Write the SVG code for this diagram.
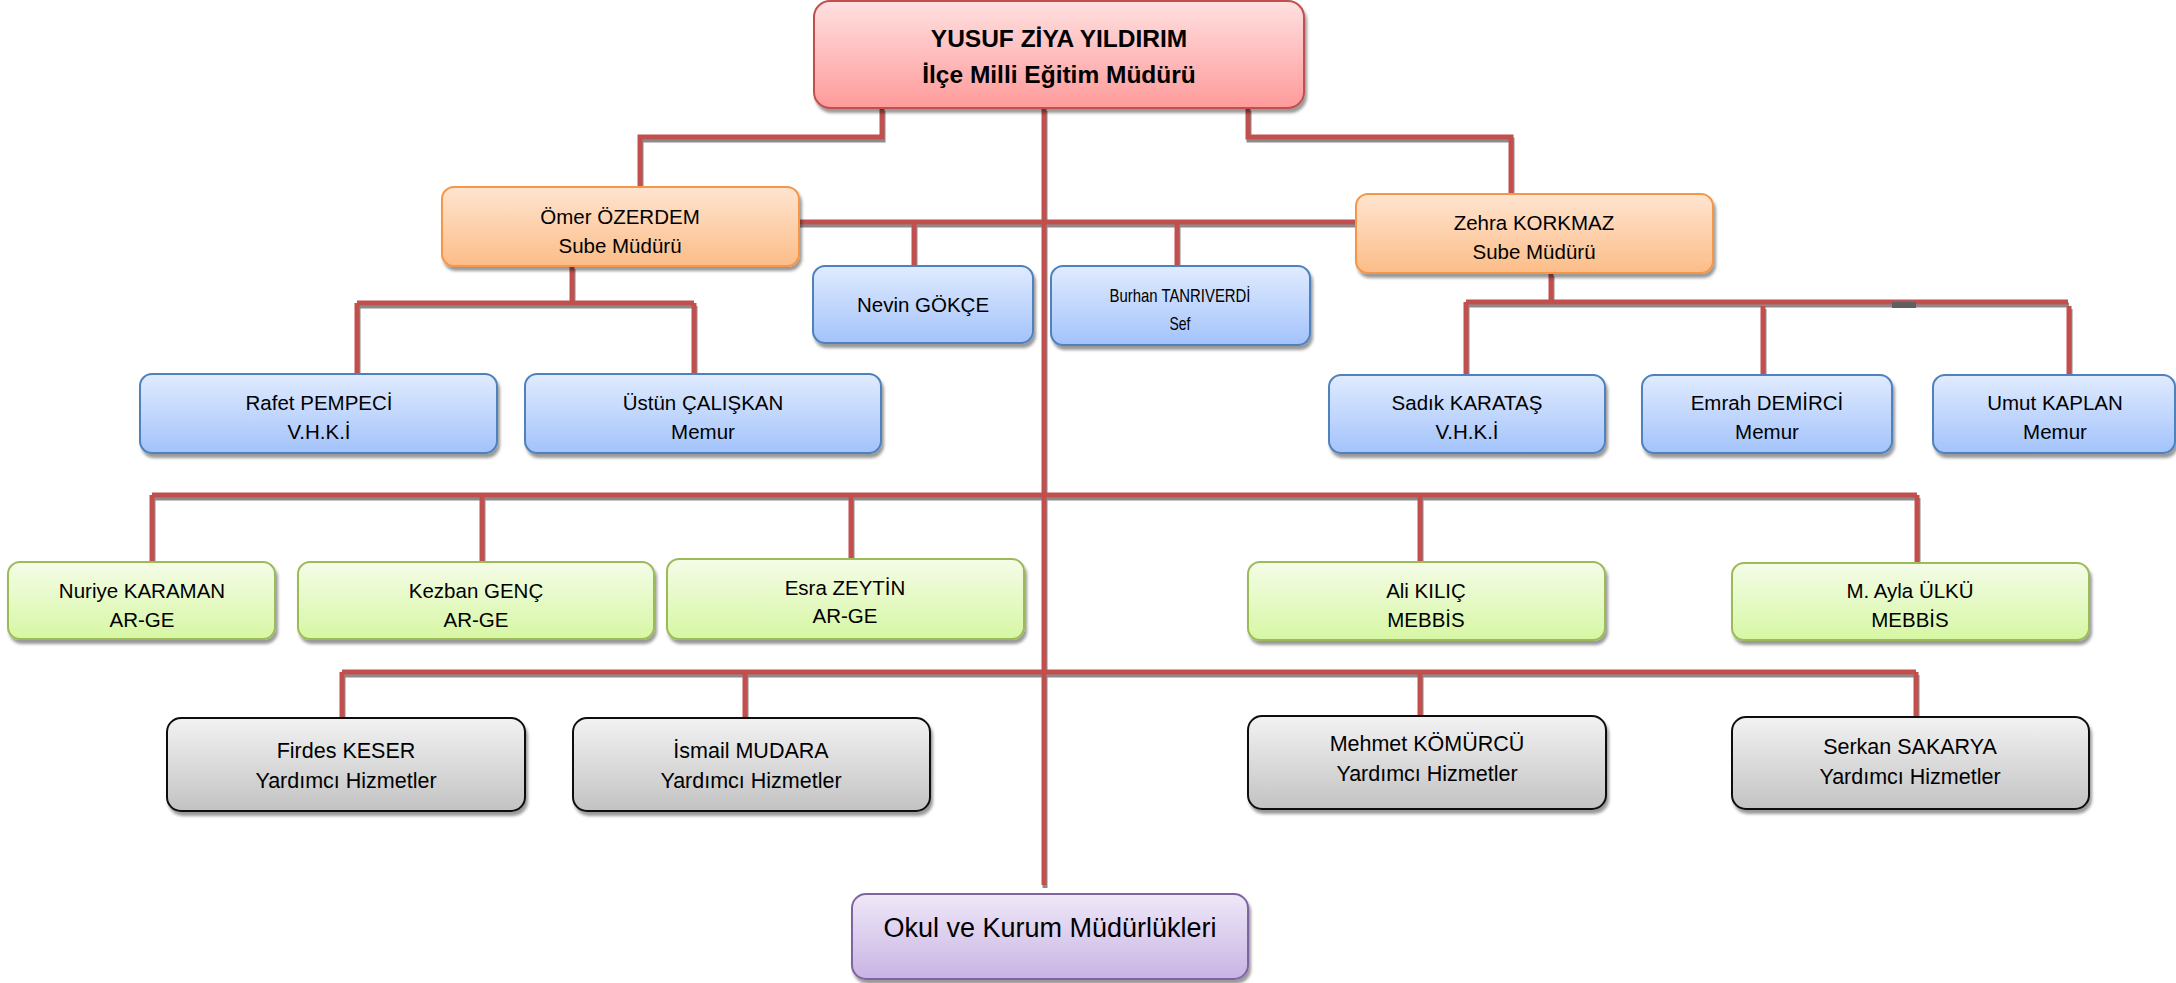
<svg xmlns="http://www.w3.org/2000/svg" width="2176" height="983" viewBox="0 0 2176 983">
<style>
text{font-family:"Liberation Sans",Arial,sans-serif;font-size:20.5px;fill:#000;text-anchor:middle}
.b{font-weight:bold;font-size:24.5px}
.sm{font-size:19px}
.gr{font-size:21.5px}
.lg{font-size:27px}
rect{stroke-width:2;filter:url(#sh)}
.red{fill:url(#gRed);stroke:#C0504D}
.ora{fill:url(#gOra);stroke:#F79646}
.blu{fill:url(#gBlu);stroke:#4F81BD}
.grn{fill:url(#gGrn);stroke:#9BBB59}
.gry{fill:url(#gGry);stroke:#111}
.pur{fill:url(#gPur);stroke:#8064A2}
#connectors path{fill:none;stroke:#C0504D;stroke-width:5}
</style>
<defs>
<filter id="sh" x="-5%" y="-10%" width="115%" height="130%"><feDropShadow dx="2" dy="4" stdDeviation="1.5" flood-color="#000" flood-opacity="0.4"/></filter>
<filter id="lsh" x="-2%" y="-2%" width="104%" height="104%"><feDropShadow dx="1" dy="3" stdDeviation="0.6" flood-color="#777" flood-opacity="0.85"/></filter>
<linearGradient id="gRed" x1="0" y1="0" x2="0" y2="1"><stop offset="0" stop-color="#FFE0E0"/><stop offset="1" stop-color="#FF9A9A"/></linearGradient>
<linearGradient id="gOra" x1="0" y1="0" x2="0" y2="1"><stop offset="0" stop-color="#FFE4D0"/><stop offset="1" stop-color="#FCBD88"/></linearGradient>
<linearGradient id="gBlu" x1="0" y1="0" x2="0" y2="1"><stop offset="0" stop-color="#E0EBFE"/><stop offset="1" stop-color="#A3C3FB"/></linearGradient>
<linearGradient id="gGrn" x1="0" y1="0" x2="0" y2="1"><stop offset="0" stop-color="#F5FCE8"/><stop offset="1" stop-color="#D6F7A3"/></linearGradient>
<linearGradient id="gGry" x1="0" y1="0" x2="0" y2="1"><stop offset="0" stop-color="#F2F2F2"/><stop offset="1" stop-color="#C3C3C3"/></linearGradient>
<linearGradient id="gPur" x1="0" y1="0" x2="0" y2="1"><stop offset="0" stop-color="#EFE8F8"/><stop offset="1" stop-color="#C8B4E4"/></linearGradient>
</defs>
<rect x="0" y="0" width="2176" height="983" fill="#fff" style="filter:none;stroke:none"/>
<g id="connectors" filter="url(#lsh)">
<path d="M882 108 V137 H640 V187"/>
<path d="M1248 108 V137 H1511 V194"/>
<path d="M1044 108 V885"/>
<path d="M799 222 H1356"/>
<path d="M914 222 V266"/>
<path d="M1177 222 V266"/>
<path d="M572 266 V303"/>
<path d="M357 303 H694"/>
<path d="M357 303 V374"/>
<path d="M694 303 V374"/>
<path d="M1551 273 V302"/>
<path d="M1466 302 H2068"/>
<path d="M1466 302 V375"/>
<path d="M1763 306 V375"/>
<path d="M2069 306 V375"/>
<path d="M152 495 H1917"/>
<path d="M152 495 V562"/>
<path d="M482 495 V562"/>
<path d="M851 495 V559"/>
<path d="M1420 495 V562"/>
<path d="M1917 495 V563"/>
<path d="M342 672 H1916"/>
<path d="M342 672 V718"/>
<path d="M745 672 V718"/>
<path d="M1420 672 V716"/>
<path d="M1916 672 V717"/>
</g>
<rect x="1892" y="302" width="24" height="6" fill="#5f5f5f" style="filter:none;stroke:none"/>
<g id="n-top"><rect class="red" x="814" y="1" width="490" height="107" rx="16"/><text class="b" x="1059" y="47">YUSUF ZİYA YILDIRIM</text><text class="b" x="1059" y="83">İlçe Milli Eğitim Müdürü</text></g>
<g id="n-omer"><rect class="ora" x="442" y="187" width="357" height="79" rx="12"/><text x="620" y="224">Ömer ÖZERDEM</text><text x="620" y="253">Sube Müdürü</text></g>
<g id="n-zehra"><rect class="ora" x="1356" y="194" width="357" height="79" rx="12"/><text x="1534" y="230">Zehra KORKMAZ</text><text x="1534" y="259">Sube Müdürü</text></g>
<g id="n-nevin"><rect class="blu" x="813" y="266" width="220" height="77" rx="12"/><text x="923" y="312">Nevin GÖKÇE</text></g>
<g id="n-burhan"><rect class="blu" x="1051" y="266" width="259" height="79" rx="12"/><text class="sm" x="1180" y="302" textLength="141" lengthAdjust="spacingAndGlyphs">Burhan TANRIVERDİ</text><text class="sm" x="1180" y="330" textLength="21" lengthAdjust="spacingAndGlyphs">Sef</text></g>
<g id="n-rafet"><rect class="blu" x="140" y="374" width="357" height="79" rx="12"/><text x="319" y="410">Rafet PEMPECİ</text><text x="319" y="439">V.H.K.İ</text></g>
<g id="n-ustun"><rect class="blu" x="525" y="374" width="356" height="79" rx="12"/><text x="703" y="410">Üstün ÇALIŞKAN</text><text x="703" y="439">Memur</text></g>
<g id="n-sadik"><rect class="blu" x="1329" y="375" width="276" height="78" rx="12"/><text x="1467" y="410">Sadık KARATAŞ</text><text x="1467" y="439">V.H.K.İ</text></g>
<g id="n-emrah"><rect class="blu" x="1642" y="375" width="250" height="78" rx="12"/><text x="1767" y="410">Emrah DEMİRCİ</text><text x="1767" y="439">Memur</text></g>
<g id="n-umut"><rect class="blu" x="1933" y="375" width="242" height="78" rx="12"/><text x="2055" y="410">Umut KAPLAN</text><text x="2055" y="439">Memur</text></g>
<g id="n-nuriye"><rect class="grn" x="8" y="562" width="267" height="77" rx="12"/><text x="142" y="598">Nuriye KARAMAN</text><text x="142" y="627">AR-GE</text></g>
<g id="n-kezban"><rect class="grn" x="298" y="562" width="356" height="77" rx="12"/><text x="476" y="598">Kezban GENÇ</text><text x="476" y="627">AR-GE</text></g>
<g id="n-esra"><rect class="grn" x="667" y="559" width="357" height="80" rx="12"/><text x="845" y="595">Esra ZEYTİN</text><text x="845" y="623">AR-GE</text></g>
<g id="n-ali"><rect class="grn" x="1248" y="562" width="357" height="78" rx="12"/><text x="1426" y="598">Ali KILIÇ</text><text x="1426" y="627">MEBBİS</text></g>
<g id="n-ayla"><rect class="grn" x="1732" y="563" width="357" height="77" rx="12"/><text x="1910" y="598">M. Ayla ÜLKÜ</text><text x="1910" y="627">MEBBİS</text></g>
<g id="n-firdes"><rect class="gry" x="167" y="718" width="358" height="93" rx="14"/><text class="gr" x="346" y="758">Firdes KESER</text><text class="gr" x="346" y="788">Yardımcı Hizmetler</text></g>
<g id="n-ismail"><rect class="gry" x="573" y="718" width="357" height="93" rx="14"/><text class="gr" x="751" y="758">İsmail MUDARA</text><text class="gr" x="751" y="788">Yardımcı Hizmetler</text></g>
<g id="n-mehmet"><rect class="gry" x="1248" y="716" width="358" height="93" rx="14"/><text class="gr" x="1427" y="751">Mehmet KÖMÜRCÜ</text><text class="gr" x="1427" y="781">Yardımcı Hizmetler</text></g>
<g id="n-serkan"><rect class="gry" x="1732" y="717" width="357" height="92" rx="14"/><text class="gr" x="1910" y="754">Serkan SAKARYA</text><text class="gr" x="1910" y="784">Yardımcı Hizmetler</text></g>
<g id="n-okul"><rect class="pur" x="852" y="894" width="396" height="85" rx="14"/><text class="lg" x="1050" y="937">Okul ve Kurum Müdürlükleri</text></g>
</svg>
